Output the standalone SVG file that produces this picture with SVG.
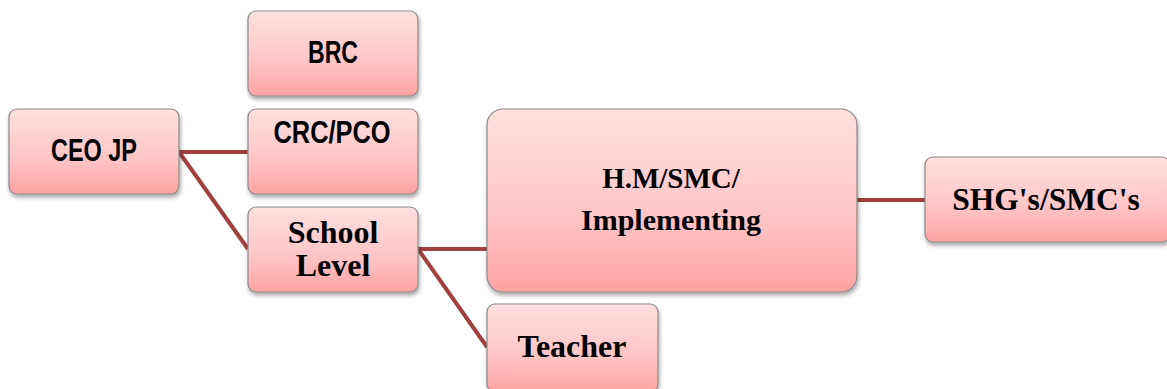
<svg xmlns="http://www.w3.org/2000/svg" width="1167" height="389" viewBox="0 0 1167 389">
<style>
.box{fill:url(#g);stroke:#8a8a8a;stroke-width:1.2;filter:url(#sh)}
.sans{font-family:"Liberation Sans",Arial,sans-serif;font-weight:bold;fill:#000;text-anchor:middle}
.serif{font-family:"Liberation Serif","Times New Roman",serif;font-weight:bold;fill:#000;text-anchor:middle}
.conn{stroke:#a0413f;stroke-width:4;fill:none}
</style>
<defs>
<linearGradient id="g" x1="0" y1="0" x2="0" y2="1">
<stop offset="0" stop-color="#ffe0e0"/>
<stop offset="0.6" stop-color="#ffc4c4"/>
<stop offset="1" stop-color="#ffa2a2"/>
</linearGradient>
<filter id="sh" x="-10%" y="-10%" width="125%" height="130%">
<feGaussianBlur in="SourceAlpha" stdDeviation="2"/>
<feOffset dx="1" dy="3" result="b"/>
<feComponentTransfer><feFuncA type="linear" slope="0.35"/></feComponentTransfer>
<feMerge><feMergeNode/><feMergeNode in="SourceGraphic"/></feMerge>
</filter>
</defs>
<rect width="1167" height="389" fill="#fff"/>
<g id="connectors">
<line class="conn" x1="179" y1="152" x2="248" y2="152"/>
<line class="conn" x1="179" y1="152" x2="248" y2="249"/>
<line class="conn" x1="418" y1="249" x2="487" y2="249"/>
<line class="conn" x1="418" y1="249" x2="487" y2="347"/>
<line class="conn" x1="857" y1="200" x2="925" y2="200"/>
</g>
<g id="ceo">
<rect class="box" x="9" y="109" width="170" height="85" rx="8"/>
<text class="sans" x="94" y="161" font-size="31" textLength="86" lengthAdjust="spacingAndGlyphs">CEO JP</text>
</g>
<g id="brc">
<rect class="box" x="248" y="11" width="170" height="85" rx="8"/>
<text class="sans" x="333" y="63" font-size="31" textLength="50" lengthAdjust="spacingAndGlyphs">BRC</text>
</g>
<g id="crc">
<rect class="box" x="248" y="109" width="170" height="85" rx="8"/>
<text class="sans" x="332" y="143" font-size="31" textLength="117" lengthAdjust="spacingAndGlyphs">CRC/PCO</text>
</g>
<g id="school">
<rect class="box" x="248" y="207" width="170" height="85" rx="8"/>
<text class="serif" x="333" y="243" font-size="32">School</text>
<text class="serif" x="333" y="276" font-size="32">Level</text>
</g>
<g id="hm">
<rect class="box" x="487" y="109" width="370" height="183" rx="16"/>
<text class="serif" x="671" y="188" font-size="29">H.M/SMC/</text>
<text class="serif" x="671" y="230" font-size="30">Implementing</text>
</g>
<g id="teacher">
<rect class="box" x="487" y="304" width="171" height="88" rx="8"/>
<text class="serif" x="572" y="357" font-size="32">Teacher</text>
</g>
<g id="shg">
<rect class="box" x="925" y="157" width="245" height="85" rx="8"/>
<text class="serif" x="1046" y="210" font-size="31.5">SHG's/SMC's</text>
</g>
</svg>
